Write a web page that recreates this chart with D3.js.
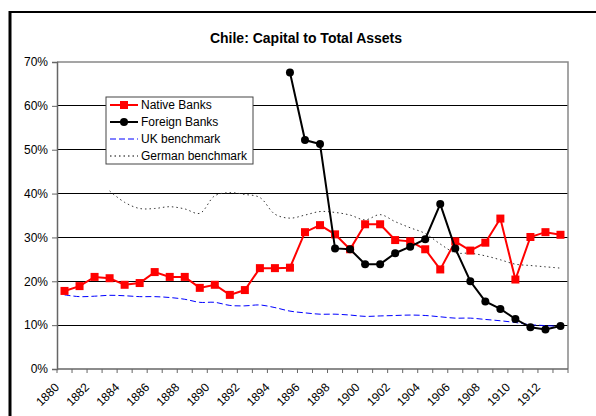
<!DOCTYPE html>
<html><head><meta charset="utf-8">
<script src="https://cdn.jsdelivr.net/npm/d3@7"></script>
<style>
body{margin:0;background:#fff;}
svg{display:block;font-family:"Liberation Sans",Arial,sans-serif;}
</style></head><body>
<svg id="c" width="596" height="416"></svg>
<script>
const years = d3.range(1880, 1914);
const yTicks = [0,0.1,0.2,0.3,0.4,0.5,0.6,0.7];
const native = [17.8,18.9,21.0,20.7,19.2,19.6,22.1,21.0,21.0,18.5,19.2,16.9,18.0,23.0,23.0,23.1,31.2,32.8,30.7,27.3,33.0,33.0,29.4,29.1,27.3,22.7,29.1,27.0,28.8,34.3,20.4,30.1,31.2,30.6];
const foreign = [null,null,null,null,null,null,null,null,null,null,null,null,null,null,null,67.6,52.2,51.3,27.5,27.3,23.9,23.9,26.4,27.9,29.6,37.6,27.5,20.0,15.4,13.7,11.4,9.5,9.0,9.8];
const uk = [16.9,16.5,16.6,16.8,16.7,16.5,16.5,16.3,15.9,15.2,15.2,14.5,14.4,14.6,14.0,13.2,12.8,12.5,12.5,12.3,12.0,12.1,12.2,12.3,12.2,11.9,11.6,11.6,11.3,11.0,10.6,10.1,9.9,9.7];
const german = [null,null,null,40.6,38.0,36.6,36.6,37.0,36.5,35.5,39.5,40.2,39.8,39.1,35.3,34.4,35.1,35.9,35.7,35.1,34.0,35.2,33.6,32.2,30.9,28.5,26.5,26.4,25.8,24.9,23.9,23.6,23.3,23.0];
const seriesNames = ["Native Banks","Foreign Banks","UK benchmark","German benchmark"];
const title = "Chile: Capital to Total Assets";

const svg = d3.select("#c");
const L=57, R=568, T=62, B=369;
const x = d3.scaleBand().domain(years).range([L,R]).padding(0);
const cx = d => x(d) + x.bandwidth()/2;
const y = d3.scaleLinear().domain([0,0.7]).range([B,T]);

// outer frame
svg.append("line").attr("x1",10).attr("x2",10).attr("y1",11).attr("y2",416).attr("stroke","#000").attr("stroke-width",3);
svg.append("line").attr("x1",9).attr("x2",596).attr("y1",12).attr("y2",12).attr("stroke","#000").attr("stroke-width",2);

svg.append("text").attr("x",306).attr("y",43).attr("text-anchor","middle")
  .attr("font-size",14).attr("font-weight","bold").text(title);

// gridlines
svg.append("g").selectAll("line").data(yTicks.filter(v=>v>0 && v<0.7)).join("line")
  .attr("x1",L).attr("x2",R).attr("y1",d=>y(d)).attr("y2",d=>y(d))
  .attr("stroke","#000").attr("stroke-width",1).attr("shape-rendering","crispEdges");
// plot border top/right
svg.append("path").attr("d",`M${L},${T}H${R}V${B}`).attr("fill","none").attr("stroke","#888").attr("stroke-width",1.5);

// y axis
const ya = svg.append("g").attr("transform",`translate(${L},0)`)
  .call(d3.axisLeft(y).tickValues(yTicks).tickFormat(d3.format(".0%")).tickSize(5).tickPadding(4));
ya.select(".domain").attr("stroke","#666").attr("stroke-width",1.5);
ya.selectAll(".tick line").attr("stroke","#666");
ya.selectAll("text").attr("font-size",12).attr("fill","#000").attr("font-family","Liberation Sans, Arial, sans-serif");

// x axis
const xa = svg.append("g").attr("transform",`translate(0,${B})`)
  .call(d3.axisBottom(x).tickSize(0).tickFormat(d => d%2===0 ? d : ""));
xa.select(".domain").remove();
xa.selectAll("text").attr("font-size",12).attr("fill","#000").attr("font-family","Liberation Sans, Arial, sans-serif")
  .attr("text-anchor","end").attr("dy","0.35em").attr("y",0)
  .attr("transform","translate(-7.5,16) rotate(-45)");
svg.append("line").attr("x1",L).attr("x2",R).attr("y1",B).attr("y2",B).attr("stroke","#666").attr("stroke-width",1.5);
svg.append("g").selectAll("line").data(years.concat([null])).join("line")
  .attr("x1",(d,i)=>L+i*x.bandwidth()).attr("x2",(d,i)=>L+i*x.bandwidth())
  .attr("y1",B).attr("y2",B+4).attr("stroke","#666").attr("stroke-width",1);

const mk = arr => years.map((yr,i)=>({yr, v: arr[i]==null?null:arr[i]/100}));
const lineGen = d3.line().defined(d=>d.v!=null).x(d=>cx(d.yr)).y(d=>y(d.v));
const smoothGen = d3.line().defined(d=>d.v!=null).x(d=>cx(d.yr)).y(d=>y(d.v)).curve(d3.curveCatmullRom.alpha(0.5));

svg.append("path").datum(mk(uk)).attr("d",smoothGen).attr("fill","none").attr("stroke","#0000ff").attr("stroke-width",1).attr("stroke-dasharray","6,3");
svg.append("path").datum(mk(german)).attr("d",smoothGen).attr("fill","none").attr("stroke","#333").attr("stroke-width",1).attr("stroke-dasharray","1.5,3");

svg.append("path").datum(mk(native)).attr("d",lineGen).attr("fill","none").attr("stroke","#ff0000").attr("stroke-width",2);
svg.append("g").selectAll("rect").data(mk(native)).join("rect")
  .attr("x",d=>cx(d.yr)-4).attr("y",d=>y(d.v)-4).attr("width",8).attr("height",8).attr("fill","#ff0000");

svg.append("path").datum(mk(foreign)).attr("d",lineGen).attr("fill","none").attr("stroke","#000").attr("stroke-width",2);
svg.append("g").selectAll("circle").data(mk(foreign).filter(d=>d.v!=null)).join("circle")
  .attr("cx",d=>cx(d.yr)).attr("cy",d=>y(d.v)).attr("r",4).attr("fill","#000");

// legend
const lg = svg.append("g");
lg.append("rect").attr("x",106).attr("y",97).attr("width",147).attr("height",67).attr("fill","#fff").attr("stroke","#444").attr("stroke-width",1);
const rows = [105,122,139,156];
seriesNames.forEach((n,i)=>{
  const ry = rows[i];
  const ln = lg.append("line").attr("x1",110).attr("x2",138).attr("y1",ry).attr("y2",ry);
  if(i===0){ ln.attr("stroke","#ff0000").attr("stroke-width",2);
    lg.append("rect").attr("x",120).attr("y",ry-4).attr("width",8).attr("height",8).attr("fill","#ff0000"); }
  if(i===1){ ln.attr("stroke","#000").attr("stroke-width",2);
    lg.append("circle").attr("cx",124).attr("cy",ry).attr("r",4).attr("fill","#000"); }
  if(i===2){ ln.attr("stroke","#0000ff").attr("stroke-width",1).attr("stroke-dasharray","6,3"); }
  if(i===3){ ln.attr("stroke","#000").attr("stroke-width",1).attr("stroke-dasharray","1.5,3"); }
  lg.append("text").attr("x",141).attr("y",ry).attr("dy","0.36em").attr("font-size",12).text(n);
});
</script>
</body></html>
